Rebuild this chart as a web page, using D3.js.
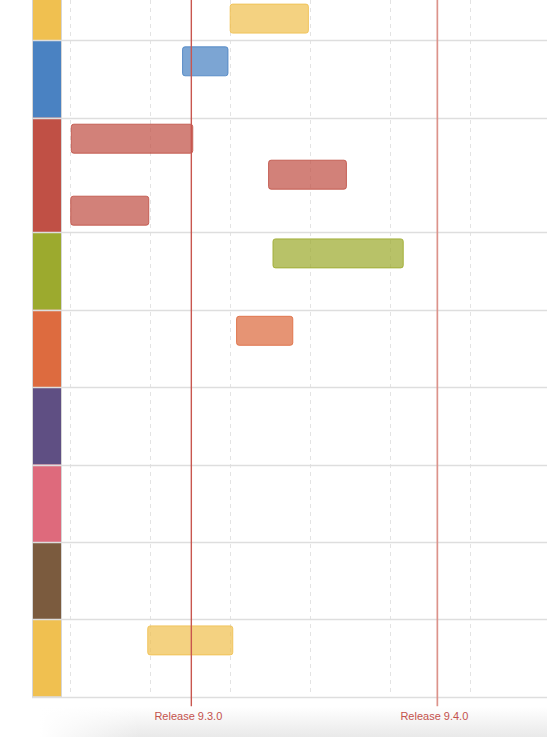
<!DOCTYPE html><html lang="en">
<head>
  <meta charset="UTF-8">
  <title>Release timeline</title>
  <script src="https://d3js.org/d3.v7.min.js"></script>
  <style>
    body {
      margin: 0;
      background: white;
      font-family: "Liberation Sans", Arial, sans-serif;
    }
    svg {
      display: block;
    }
    .grid {
      stroke: #e3e3e3;
      stroke-dasharray: 4,4;
    }
    .row-line {
      stroke: #dedede;
    }
    .release-label {
      font-size: 11px;
      fill: #c4524c;
    }
  </style>
</head>
<body>
<svg width="547" height="737"></svg>
<script>
// one colour per swimlane (top to bottom)
const groupColors = ["#f0c050", "#4a82c2", "#c05045", "#9caa2e", "#dd6b3f",
                     "#5f4f83", "#de6a7c", "#7b5b3e", "#f0c050"];

// releases, in days from the first grid line
const releaseNames = ["Release 9.3.0", "Release 9.4.0"];
const releaseDays = [15.16, 45.9];
const releaseColors = ["#c8564f", "#dc938b"];
const releaseWidths = [1.4, 1.7];

// items: swimlane, stack lane inside it, start day, end day
const tasks = [
  { group: 0, lane: 1, start: 19.95, end: 29.85 },
  { group: 1, lane: 0, start: 14.0, end: 19.8 },
  { group: 2, lane: 0, start: 0.1, end: 15.4 },
  { group: 2, lane: 1, start: 24.75, end: 34.6 },
  { group: 2, lane: 2, start: 0.03, end: 9.9 },
  { group: 3, lane: 0, start: 25.3, end: 41.7 },
  { group: 4, lane: 0, start: 20.75, end: 27.9 },
  { group: 8, lane: 0, start: 9.65, end: 20.4 }
];

const W = 547;
const stripX0 = 32, stripX1 = 62;
const minRow = 77.4, laneStep = 36, lanePad = 6, barH = 30;
const firstRowBottom = 40.3;

const svg = d3.select("svg");

const x = d3.scaleLinear()
  .domain([-1, 59.6])
  .range([stripX1, W]);

// row heights from how many lanes each swimlane stacks
const lanes = groupColors.map((c, i) => {
  const ls = tasks.filter(t => t.group === i).map(t => t.lane + 1);
  return Math.max(1, ...ls);
});
const rowH = lanes.map(n => Math.max(minRow, 6.7 + n * laneStep));
const rowTop = [];
let acc = firstRowBottom - rowH[0];
rowH.forEach((h, i) => { rowTop.push(acc); acc += h; });
const bottom = acc;

// bottom shadow
const defs = svg.append("defs");
const sg = defs.append("linearGradient").attr("id", "shade")
  .attr("x1", 0).attr("y1", 0).attr("x2", 0).attr("y2", 1);
sg.append("stop").attr("offset", "0%").attr("stop-color", "#fff");
sg.append("stop").attr("offset", "100%").attr("stop-color", "#e9e9e9");
const hg = defs.append("linearGradient").attr("id", "fadeL")
  .attr("x1", 0).attr("y1", 0).attr("x2", 1).attr("y2", 0);
hg.append("stop").attr("offset", "0%").attr("stop-color", "#fff").attr("stop-opacity", 1);
hg.append("stop").attr("offset", "100%").attr("stop-color", "#fff").attr("stop-opacity", 0);

svg.append("rect")
  .attr("x", 40).attr("y", bottom + 10)
  .attr("width", W - 40).attr("height", 737 - bottom - 10)
  .attr("fill", "url(#shade)");
svg.append("rect")
  .attr("x", 40).attr("y", bottom + 10)
  .attr("width", 100).attr("height", 737 - bottom - 10)
  .attr("fill", "url(#fadeL)");

// dashed grid
svg.append("g")
  .selectAll("line")
  .data(x.ticks(6))
  .join("line")
  .attr("class", "grid")
  .attr("x1", d => Math.round(x(d)) + 0.5)
  .attr("x2", d => Math.round(x(d)) + 0.5)
  .attr("y1", 0)
  .attr("y2", bottom - 4);

// coloured group strip
svg.append("g")
  .selectAll("rect")
  .data(groupColors)
  .join("rect")
  .attr("x", stripX0)
  .attr("y", (d, i) => rowTop[i])
  .attr("width", stripX1 - stripX0)
  .attr("height", (d, i) => rowH[i])
  .attr("fill", d => d);

svg.append("rect")
  .attr("x", stripX0 + 0.5).attr("y", -5)
  .attr("width", stripX1 - stripX0 - 1).attr("height", bottom + 5)
  .attr("fill", "none").attr("stroke", "#d6d6d6");

// row separators
svg.append("g")
  .selectAll("line")
  .data(rowTop.map((t, i) => t + rowH[i]))
  .join("line")
  .attr("class", "row-line")
  .attr("x1", stripX0)
  .attr("x2", W)
  .attr("y1", d => Math.round(d) + 0.5)
  .attr("y2", d => Math.round(d) + 0.5)
  .attr("stroke-width", 1.3);

// items
svg.append("g")
  .selectAll("rect")
  .data(tasks)
  .join("rect")
  .attr("x", d => x(d.start) + 0.5)
  .attr("y", d => rowTop[d.group] + lanePad + d.lane * laneStep + 0.5)
  .attr("width", d => x(d.end) - x(d.start) - 1)
  .attr("height", barH - 1)
  .attr("rx", 2.5)
  .attr("fill", d => groupColors[d.group])
  .attr("fill-opacity", 0.72)
  .attr("stroke", d => groupColors[d.group])
  .attr("stroke-opacity", 0.85);

// release markers
const rel = svg.append("g")
  .selectAll("g")
  .data(releaseDays)
  .join("g")
  .attr("transform", d => `translate(${x(d)},0)`);

rel.append("line")
  .attr("y1", 0)
  .attr("y2", bottom + 9.5)
  .attr("stroke", (d, i) => releaseColors[i])
  .attr("stroke-width", (d, i) => releaseWidths[i]);

rel.append("text")
  .attr("class", "release-label")
  .attr("x", -3)
  .attr("y", 720)
  .attr("text-anchor", "middle")
  .text((d, i) => releaseNames[i]);
</script>
</body>
</html>
